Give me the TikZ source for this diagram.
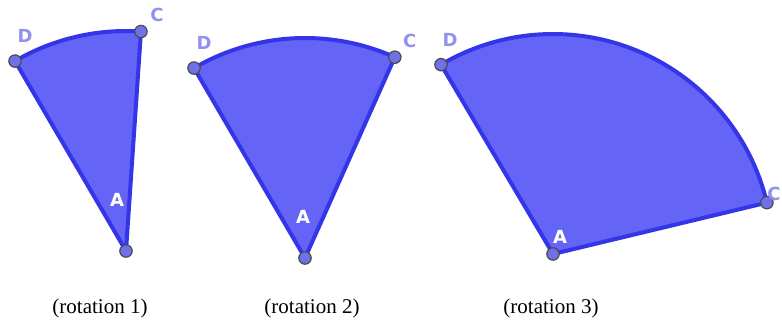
\documentclass[tikz,border=0pt]{standalone}
\usepackage{fontspec}
\setmainfont{Liberation Serif}
\newfontfamily\lblfont{DejaVu Sans}
\usepackage[outline]{contour}
\usetikzlibrary{calc}
\definecolor{sectfill}{RGB}{100,100,246}
\definecolor{sectline}{RGB}{52,52,232}
\definecolor{ptfill}{RGB}{112,112,232}
\definecolor{lblcol}{RGB}{145,145,238}
\contourlength{0.7pt}

\begin{document}
\begin{tikzpicture}[x=0.5pt, y=0.5pt,
    sector/.style={fill=sectfill, draw=sectline, line width=2pt, line join=round},
    pt/.style={circle, fill=ptfill, draw=black!70, line width=0.6pt, inner sep=0pt, minimum size=6.2pt},
    lbl/.style={font=\lblfont\bfseries\fontsize{9}{9}\selectfont, text=lblcol, inner sep=0pt},
    albl/.style={font=\lblfont\bfseries\fontsize{9}{9}\selectfont, inner sep=0pt},
    caption/.style={font=\fontsize{10.5}{12}\selectfont, inner sep=0pt}]
    \useasboundingbox (0,0) rectangle (782,322);

    % rotation 1
    \coordinate (A1) at (126,71);
    \coordinate (D1) at ($(A1)+(120.3:110pt)$);
    \coordinate (C1) at ($(A1)+(86.1:110pt)$);
    \path[sector] (A1) -- (D1) arc[start angle=120.3, end angle=86.1, radius=110pt] -- cycle;
    \node[pt] (pA1) at (A1) {};
    \node[pt] (pD1) at (D1) {};
    \node[pt] (pC1) at (C1) {};
    \node[lbl] (lD1) at ([shift={(5pt,12.5pt)}]pD1) {D};
    \node[lbl] (lC1) at ([shift={(8pt,8.5pt)}]pC1) {C};
    \node[albl] (lA1) at ([shift={(-4.5pt,25.5pt)}]pA1) {\contour{lblcol}{\textcolor{white}{A}}};
    \node[caption] (cap1) at (100,14) {(rotation 1)};

    % rotation 2
    \coordinate (A2) at (305,64);
    \coordinate (D2) at ($(A2)+(120.3:110pt)$);
    \coordinate (C2) at ($(A2)+(65.9:110pt)$);
    \path[sector] (A2) -- (D2) arc[start angle=120.3, end angle=65.9, radius=110pt] -- cycle;
    \node[pt] (pA2) at (A2) {};
    \node[pt] (pD2) at (D2) {};
    \node[pt] (pC2) at (C2) {};
    \node[lbl] (lD2) at ([shift={(5pt,12.5pt)}]pD2) {D};
    \node[lbl] (lC2) at ([shift={(7.5pt,8pt)}]pC2) {C};
    \node[albl] (lA2) at ([shift={(-1pt,20.5pt)}]pA2) {\contour{lblcol}{\textcolor{white}{A}}};
    \node[caption] (cap2) at (312,14) {(rotation 2)};

    % rotation 3
    \coordinate (A3) at (553,68);
    \coordinate (D3) at ($(A3)+(120.6:110pt)$);
    \coordinate (C3) at ($(A3)+(13.5:110pt)$);
    \path[sector] (A3) -- (D3) arc[start angle=120.6, end angle=13.5, radius=110pt] -- cycle;
    \node[pt] (pA3) at (A3) {};
    \node[pt] (pD3) at (D3) {};
    \node[pt] (pC3) at (C3) {};
    \node[lbl] (lD3) at ([shift={(4.5pt,12.5pt)}]pD3) {D};
    \node[lbl] (lC3) at ([shift={(3.5pt,4.5pt)}]pC3) {C};
    \node[albl] (lA3) at ([shift={(3.5pt,8.5pt)}]pA3) {\contour{lblcol}{\textcolor{white}{A}}};
    \node[caption] (cap3) at (551,14) {(rotation 3)};
\end{tikzpicture}
\end{document}
